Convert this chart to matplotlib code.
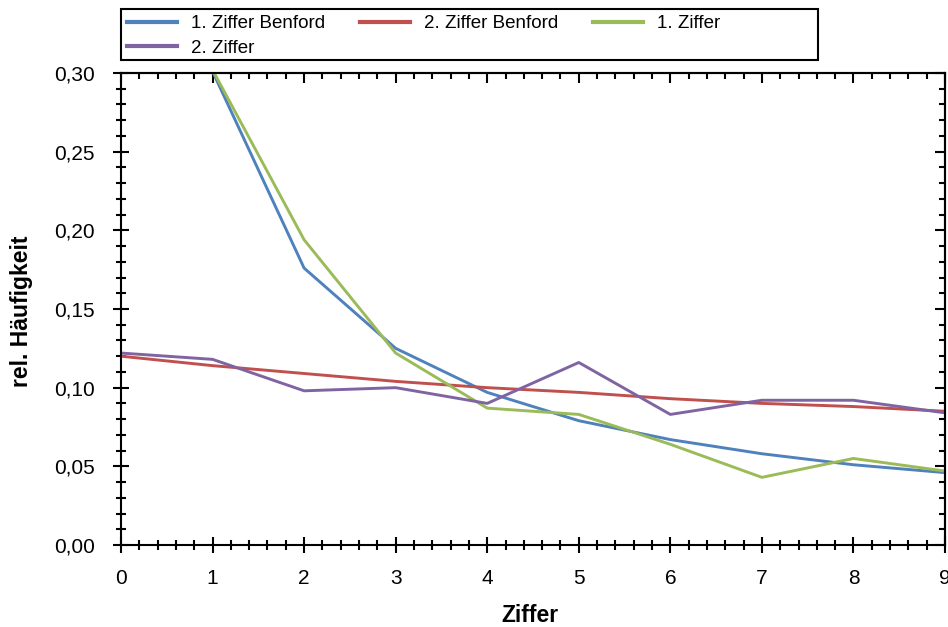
import numpy as np
import matplotlib.pyplot as plt
from matplotlib.patches import Rectangle
from matplotlib.ticker import MultipleLocator, FuncFormatter

plt.rcParams['font.family'] = ['Liberation Sans', 'DejaVu Sans']

# Digits and relative frequencies
digits_first = [1, 2, 3, 4, 5, 6, 7, 8, 9]
digits_second = [0, 1, 2, 3, 4, 5, 6, 7, 8, 9]

benford_first = [0.301, 0.176, 0.125, 0.097, 0.079, 0.067, 0.058, 0.051, 0.046]
benford_second = [0.120, 0.114, 0.109, 0.104, 0.100, 0.097, 0.093, 0.090, 0.088, 0.085]
observed_first = [0.302, 0.194, 0.122, 0.087, 0.083, 0.064, 0.043, 0.055, 0.047]
observed_second = [0.122, 0.118, 0.098, 0.100, 0.090, 0.116, 0.083, 0.092, 0.092, 0.084]

W, H = 948, 627
fig = plt.figure(figsize=(W / 100, H / 100), dpi=100)
ax = fig.add_axes([121 / W, 1 - 545 / H, 824 / W, 472 / H])

lw = 2.1
l1, = ax.plot(digits_first, benford_first, color='#4F81BD', lw=lw, label='1. Ziffer Benford')
l2, = ax.plot(digits_second, benford_second, color='#C0504D', lw=lw, label='2. Ziffer Benford')
l3, = ax.plot(digits_first, observed_first, color='#9BBB59', lw=lw, label='1. Ziffer')
l4, = ax.plot(digits_second, observed_second, color='#8064A2', lw=lw, label='2. Ziffer')

ax.set_xlim(0, 9)
ax.set_ylim(0, 0.30)

comma = FuncFormatter(lambda v, p: f'{v:.2f}'.replace('.', ','))
ax.xaxis.set_major_locator(MultipleLocator(1))
ax.xaxis.set_minor_locator(MultipleLocator(0.2))
ax.yaxis.set_major_locator(MultipleLocator(0.05))
ax.yaxis.set_minor_locator(MultipleLocator(0.01))
ax.yaxis.set_major_formatter(comma)

ax.tick_params(which='major', direction='inout', length=12, width=1.5, labelsize=15, colors='black')
ax.tick_params(which='minor', direction='inout', length=7, width=1.5)
ax.tick_params(axis='x', pad=11)
ax.tick_params(axis='y', pad=13)

# inward ticks on top and right edge
top = ax.secondary_xaxis('top')
top.xaxis.set_major_locator(MultipleLocator(1))
top.xaxis.set_minor_locator(MultipleLocator(0.2))
top.tick_params(which='major', direction='in', length=7, width=1.5, labeltop=False)
top.tick_params(which='minor', direction='in', length=4.5, width=1.5)
right = ax.secondary_yaxis('right')
right.yaxis.set_major_locator(MultipleLocator(0.05))
right.yaxis.set_minor_locator(MultipleLocator(0.01))
right.tick_params(which='major', direction='in', length=7, width=1.5, labelright=False)
right.tick_params(which='minor', direction='in', length=4.5, width=1.5)

for a in (ax, top, right):
    for s in a.spines.values():
        s.set_linewidth(1.5)

fig.text(530 / W, 1 - 615 / H, 'Ziffer', fontsize=16.5, fontweight='bold', ha='center', va='center')
fig.text(22 / W, 1 - 311 / H, 'rel. Häufigkeit', fontsize=16.5, fontweight='bold',
         rotation=90, ha='center', va='center')

# legend: row-wise order needs column-major handles
leg = fig.legend([l1, l4, l2, l3], [l1.get_label(), l4.get_label(), l2.get_label(), l3.get_label()],
                 loc='upper left', bbox_to_anchor=(127 / W, 1 - 15 / H), ncol=3,
                 fontsize=13.5, frameon=False,
                 handlelength=2.67, handletextpad=0.75, columnspacing=1.85,
                 borderpad=0, labelspacing=0.4, borderaxespad=0)
for h in leg.get_lines():
    h.set_linewidth(3)
fig.patches.append(Rectangle((121 / W, 1 - 60 / H), 697 / W, 51 / H, transform=fig.transFigure,
                             fill=False, edgecolor='black', linewidth=1.5))

fig.savefig('out.png', dpi=100)
